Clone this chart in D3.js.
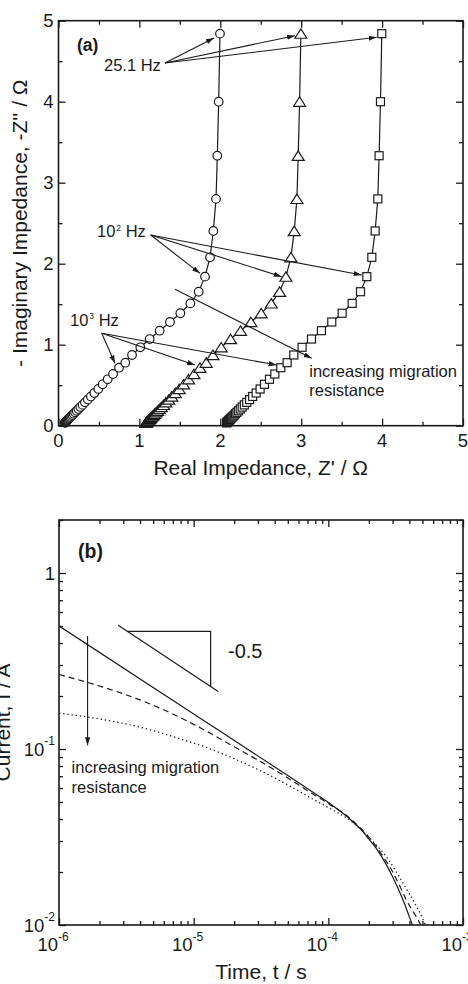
<!DOCTYPE html>
<html>
<head>
<meta charset="utf-8">
<script src="https://cdn.jsdelivr.net/npm/d3@7"></script>
<style>
body { margin: 0; background: #fff; }
svg { display: block; font-family: "Liberation Sans", Arial, Helvetica, sans-serif; }
</style>
</head>
<body>
<script>
// ---- panel (a): Nyquist data, same frequencies for all three cells ----
var zImag = [4.840, 4.000, 3.333, 2.800, 2.404, 2.079, 1.840, 1.654, 1.510, 1.388, 1.280, 1.173, 1.070, 0.968, 0.873, 0.778,
  0.716, 0.638, 0.573, 0.511, 0.453, 0.404, 0.361, 0.322, 0.288, 0.257, 0.230, 0.206, 0.184, 0.165, 0.148, 0.132,
  0.118, 0.106, 0.095, 0.085, 0.076, 0.068, 0.060, 0.054, 0.048, 0.043, 0.039, 0.035];
var zRealCircle = [1.996, 1.980, 1.963, 1.947, 1.914, 1.873, 1.811, 1.733, 1.630, 1.506, 1.378, 1.250, 1.127, 1.011, 0.909, 0.826,
  0.748, 0.674, 0.608, 0.546, 0.492, 0.443, 0.400, 0.362, 0.327, 0.297, 0.270, 0.246, 0.224, 0.205, 0.188, 0.173,
  0.159, 0.147, 0.136, 0.126, 0.118, 0.110, 0.103, 0.097, 0.092, 0.087, 0.083, 0.079];
var zRealTriangle = [2.996, 2.980, 2.963, 2.947, 2.914, 2.873, 2.811, 2.733, 2.630, 2.506, 2.378, 2.250, 2.127, 2.011, 1.909, 1.826,
  1.748, 1.674, 1.608, 1.546, 1.492, 1.443, 1.400, 1.362, 1.327, 1.297, 1.270, 1.246, 1.224, 1.205, 1.188, 1.173,
  1.159, 1.147, 1.136, 1.126, 1.118, 1.110, 1.103, 1.097, 1.092, 1.087, 1.083, 1.079];
var zRealSquare = [3.996, 3.980, 3.963, 3.947, 3.914, 3.873, 3.811, 3.733, 3.630, 3.506, 3.378, 3.250, 3.127, 3.011, 2.909, 2.826,
  2.748, 2.674, 2.608, 2.546, 2.492, 2.443, 2.400, 2.362, 2.327, 2.297, 2.270, 2.246, 2.224, 2.205, 2.188, 2.173,
  2.159, 2.147, 2.136, 2.126, 2.118, 2.110, 2.103, 2.097, 2.092, 2.087, 2.083, 2.079];
var aMajor = [0, 1, 2, 3, 4, 5];
var aMinor = [0.5, 1.5, 2.5, 3.5, 4.5];

// ---- panel (b): current transients ----
var tSolid = [1e-6, 1e-5, 5e-5, 8e-5, 1e-4, 1.25e-4, 1.5e-4, 1.75e-4, 2e-4, 2.25e-4, 2.5e-4, 2.75e-4, 3e-4, 3.25e-4, 3.5e-4, 3.75e-4, 4e-4, 4.2e-4, 4.3e-4];
var iSolid = [0.5, 0.158, 0.0707, 0.0557, 0.0497, 0.0438, 0.0390, 0.0348, 0.0308, 0.0275, 0.0243, 0.0214, 0.0188, 0.0165, 0.0145, 0.0127, 0.0111, 0.0100, 0.0094];
var tDash = [1e-6, 2e-6, 4e-6, 7e-6, 1e-5, 2e-5, 3e-5, 5e-5, 7e-5, 1e-4, 1.5e-4, 2.15e-4, 2.6e-4, 3.03e-4, 3.4e-4, 3.81e-4, 4.3e-4, 4.79e-4, 5e-4];
var iDash = [0.265, 0.228, 0.190, 0.158, 0.138, 0.103, 0.0865, 0.0685, 0.058, 0.049, 0.0395, 0.0295, 0.0240, 0.0198, 0.0166, 0.0138, 0.0118, 0.0102, 0.0095];
var tDot = [1e-6, 2e-6, 4e-6, 8e-6, 1.2e-5, 2e-5, 3e-5, 5e-5, 7e-5, 1e-4, 1.5e-4, 2e-4, 2.71e-4, 3.6e-4, 4.53e-4, 5.21e-4, 5.4e-4];
var iDot = [0.160, 0.148, 0.133, 0.114, 0.103, 0.088, 0.0765, 0.0625, 0.054, 0.0465, 0.0385, 0.0315, 0.0243, 0.0172, 0.0127, 0.0102, 0.0096];
var bXLabels = [[1e-6, "-6"], [1e-5, "-5"], [1e-4, "-4"], [1e-3, "-3"]];
var bYLabels = [[1, ""], [0.1, "-1"], [0.01, "-2"]];

var svg = d3.select("body").append("svg").attr("width", 468).attr("height", 984);
var ink = "#1a1a1a";

svg.append("defs").append("marker")
  .attr("id", "ah").attr("viewBox", "-8 -4 9 8").attr("refX", 0).attr("refY", 0)
  .attr("markerWidth", 9).attr("markerHeight", 8).attr("markerUnits", "userSpaceOnUse")
  .attr("orient", "auto")
  .append("path").attr("d", "M0,0L-8,-2.6L-8,2.6Z").attr("fill", ink);

function tickSet(g, axisFn, scale, vals, len, tr) {
  g.append("g").attr("transform", tr)
    .call(axisFn(scale).tickValues(vals).tickSize(-len).tickSizeOuter(0).tickFormat(""))
    .call(function (s) { s.select(".domain").remove(); })
    .selectAll("line").attr("stroke", ink).attr("stroke-width", 1.3);
}

// ================= panel (a) =================
var xa = d3.scaleLinear().domain([0, 5]).range([58.5, 463]);
var ya = d3.scaleLinear().domain([0, 5]).range([425.7, 20.7]);
var ga = svg.append("g");

[[aMajor, 7], [aMinor, 4]].forEach(function (p) {
  tickSet(ga, d3.axisBottom, xa, p[0], p[1], "translate(0," + ya(0) + ")");
  tickSet(ga, d3.axisTop, xa, p[0], p[1], "translate(0," + ya(5) + ")");
  tickSet(ga, d3.axisLeft, ya, p[0], p[1], "translate(" + xa(0) + ",0)");
  tickSet(ga, d3.axisRight, ya, p[0], p[1], "translate(" + xa(5) + ",0)");
});
ga.append("rect").attr("x", xa(0)).attr("y", ya(5)).attr("width", xa(5) - xa(0)).attr("height", ya(0) - ya(5))
  .attr("fill", "none").attr("stroke", ink).attr("stroke-width", 1.6);

ga.selectAll(".xl").data(aMajor).enter().append("text")
  .attr("x", function (d) { return xa(d); }).attr("y", 447)
  .attr("text-anchor", "middle").attr("font-size", 18.5).attr("fill", ink).text(function (d) { return d; });
ga.selectAll(".yl").data(aMajor).enter().append("text")
  .attr("x", xa(0) - 5).attr("y", function (d) { return ya(d) + 6.3; })
  .attr("text-anchor", "end").attr("font-size", 18.5).attr("fill", ink).text(function (d) { return d; });

ga.append("text").attr("x", (xa(0) + xa(5)) / 2).attr("y", 475).attr("text-anchor", "middle")
  .attr("font-size", 21).attr("fill", ink).text("Real Impedance, Z' / \u03A9");
ga.append("text").attr("transform", "translate(27," + (ya(2.5)) + ") rotate(-90)").attr("text-anchor", "middle")
  .attr("font-size", 21).attr("fill", ink).text("- Imaginary Impedance, -Z'' / \u03A9");

var seriesA = [
  { re: zRealCircle, shape: "circle" },
  { re: zRealTriangle, shape: "triangle" },
  { re: zRealSquare, shape: "square" }
];
var lineA = d3.line().x(function (d) { return xa(d[0]); }).y(function (d) { return ya(d[1]); });
seriesA.forEach(function (s) {
  var pts = s.re.map(function (r, i) { return [r, zImag[i]]; });
  ga.append("path").attr("d", lineA(pts)).attr("fill", "none").attr("stroke", ink).attr("stroke-width", 1.2);
  var m = ga.selectAll(null).data(pts.slice().reverse()).enter();
  if (s.shape === "circle") {
    m.append("circle").attr("cx", function (d) { return xa(d[0]); }).attr("cy", function (d) { return ya(d[1]); })
      .attr("r", 4.3).attr("fill", "#fff").attr("stroke", ink).attr("stroke-width", 1.2);
  } else if (s.shape === "triangle") {
    m.append("path").attr("d", "M0,-4.8L6,4.6L-6,4.6Z")
      .attr("transform", function (d) { return "translate(" + xa(d[0]) + "," + ya(d[1]) + ")"; })
      .attr("fill", "#fff").attr("stroke", ink).attr("stroke-width", 1.2);
  } else {
    m.append("rect").attr("x", function (d) { return xa(d[0]) - 4; }).attr("y", function (d) { return ya(d[1]) - 4; })
      .attr("width", 8).attr("height", 8).attr("fill", "#fff").attr("stroke", ink).attr("stroke-width", 1.2);
  }
});

// annotations (a)
function arrowA(from, to) {
  ga.append("line").attr("x1", xa(from[0])).attr("y1", ya(from[1])).attr("x2", xa(to[0])).attr("y2", ya(to[1]))
    .attr("stroke", ink).attr("stroke-width", 1.1).attr("marker-end", "url(#ah)");
}
[[1.922, 4.786], [2.923, 4.815], [3.933, 4.795]].forEach(function (t) { arrowA([1.316, 4.478], t); });
[[1.749, 1.881], [2.759, 1.84], [3.748, 1.86]].forEach(function (t) { arrowA([1.14, 2.354], t); });
[[0.698, 0.770], [1.687, 0.749], [2.697, 0.749]].forEach(function (t) { arrowA([0.534, 1.141], t); });
arrowA([1.44, 1.684], [3.13, 0.832]);

ga.append("text").attr("x", xa(0.229)).attr("y", ya(4.621)).attr("font-size", 17.5).attr("font-weight", "bold").attr("fill", ink).text("(a)");
ga.append("text").attr("x", xa(0.562)).attr("y", ya(4.383)).attr("font-size", 16.5).attr("fill", ink).text("25.1 Hz");
function hzLabel(x, y, sup) {
  var t = ga.append("text").attr("x", x).attr("y", y).attr("font-size", 16.5).attr("fill", ink);
  t.append("tspan").text("10");
  t.append("tspan").attr("font-size", 8.5).attr("dx", 1).attr("dy", -6.5).text(sup);
  t.append("tspan").attr("dy", 6.5).text(" Hz");
}
hzLabel(xa(0.476), ya(2.326), "2");
hzLabel(xa(0.142), ya(1.231), "3");
ga.append("text").attr("x", xa(3.1)).attr("y", ya(0.605)).attr("font-size", 16.5).attr("fill", ink).text("increasing migration");
ga.append("text").attr("x", xa(3.1)).attr("y", ya(0.363)).attr("font-size", 16.5).attr("fill", ink).text("resistance");

// ================= panel (b) =================
var xb = d3.scaleLog().domain([1e-6, 1e-3]).range([59, 463]);
var yb = d3.scaleLog().domain([0.01, 2]).range([925, 520]);
var gb = svg.append("g");

var bxMajor = [1e-6, 1e-5, 1e-4, 1e-3], bxMinor = [];
[1e-6, 1e-5, 1e-4].forEach(function (d) { for (var k = 2; k <= 9; k++) bxMinor.push(d * k); });
var byMajor = [0.01, 0.1, 1], byMinor = [];
[0.01, 0.1, 1].forEach(function (d) { for (var k = 2; k <= 9; k++) if (d * k <= 2) byMinor.push(d * k); });

[[bxMajor, 7], [bxMinor, 4]].forEach(function (p) {
  tickSet(gb, d3.axisBottom, xb, p[0], p[1], "translate(0," + yb(0.01) + ")");
  tickSet(gb, d3.axisTop, xb, p[0], p[1], "translate(0," + yb(2) + ")");
});
[[byMajor, 7], [byMinor, 4]].forEach(function (p) {
  tickSet(gb, d3.axisLeft, yb, p[0], p[1], "translate(" + xb(1e-6) + ",0)");
  tickSet(gb, d3.axisRight, yb, p[0], p[1], "translate(" + xb(1e-3) + ",0)");
});
gb.append("rect").attr("x", xb(1e-6)).attr("y", yb(2)).attr("width", xb(1e-3) - xb(1e-6)).attr("height", yb(0.01) - yb(2))
  .attr("fill", "none").attr("stroke", ink).attr("stroke-width", 1.6);

bXLabels.forEach(function (d) {
  var t = gb.append("text").attr("x", xb(d[0]) - 6).attr("y", 951).attr("text-anchor", "middle")
    .attr("font-size", 18.5).attr("fill", ink);
  t.append("tspan").text("10");
  t.append("tspan").attr("font-size", 12).attr("dy", -10).text(d[1]);
});
bYLabels.forEach(function (d) {
  var t = gb.append("text").attr("x", xb(1e-6) - 4).attr("y", yb(d[0]) + 7).attr("text-anchor", "end")
    .attr("font-size", 18.5).attr("fill", ink);
  if (d[1] === "") { t.text("1"); return; }
  t.append("tspan").text("10");
  t.append("tspan").attr("font-size", 12).attr("dy", -11).text(d[1]);
});

gb.append("text").attr("x", (xb(1e-6) + xb(1e-3)) / 2).attr("y", 979).attr("text-anchor", "middle")
  .attr("font-size", 21).attr("fill", ink).text("Time, t / s");
gb.append("text").attr("transform", "translate(10," + ((yb(0.01) + yb(2)) / 2) + ") rotate(-90)").attr("text-anchor", "middle")
  .attr("font-size", 21).attr("fill", ink).text("Current, I / A");

svg.append("clipPath").attr("id", "clipb").append("rect")
  .attr("x", xb(1e-6)).attr("y", yb(2)).attr("width", xb(1e-3) - xb(1e-6)).attr("height", yb(0.01) - yb(2));
var lineB = d3.line().x(function (d) { return xb(d[0]); }).y(function (d) { return yb(d[1]); }).curve(d3.curveMonotoneX);
var seriesB = [
  { t: tSolid, i: iSolid, dash: null },
  { t: tDash, i: iDash, dash: "6,4" },
  { t: tDot, i: iDot, dash: "1.4,2.8" }
];
seriesB.forEach(function (s) {
  var pts = s.t.map(function (t, k) { return [t, s.i[k]]; });
  gb.append("path").attr("d", lineB(pts)).attr("clip-path", "url(#clipb)")
    .attr("fill", "none").attr("stroke", ink).attr("stroke-width", 1.2)
    .attr("stroke-dasharray", s.dash);
});

// annotations (b)
gb.append("text").attr("x", xb(1.384e-6)).attr("y", yb(1.22)).attr("font-size", 19.5).attr("font-weight", "bold").attr("fill", ink).text("(b)");
gb.append("line").attr("x1", xb(2.75e-6)).attr("y1", yb(0.505)).attr("x2", xb(1.52e-5)).attr("y2", yb(0.212))
  .attr("stroke", ink).attr("stroke-width", 1.2);
gb.append("path").attr("d", "M" + xb(3.24e-6) + "," + yb(0.466) + "L" + xb(1.337e-5) + "," + yb(0.466) + "L" + xb(1.337e-5) + "," + yb(0.227))
  .attr("fill", "none").attr("stroke", ink).attr("stroke-width", 1.2);
gb.append("text").attr("x", xb(1.8e-5)).attr("y", yb(0.327)).attr("font-size", 20).attr("fill", ink).text("-0.5");
gb.append("line").attr("x1", xb(1.63e-6)).attr("y1", yb(0.438)).attr("x2", xb(1.63e-6)).attr("y2", yb(0.105))
  .attr("stroke", ink).attr("stroke-width", 1.1).attr("marker-end", "url(#ah)");
gb.append("text").attr("x", xb(1.24e-6)).attr("y", yb(0.0728)).attr("font-size", 16.5).attr("fill", ink).text("increasing migration");
gb.append("text").attr("x", xb(1.24e-6)).attr("y", yb(0.056)).attr("font-size", 16.5).attr("fill", ink).text("resistance");
</script>
</body>
</html>
